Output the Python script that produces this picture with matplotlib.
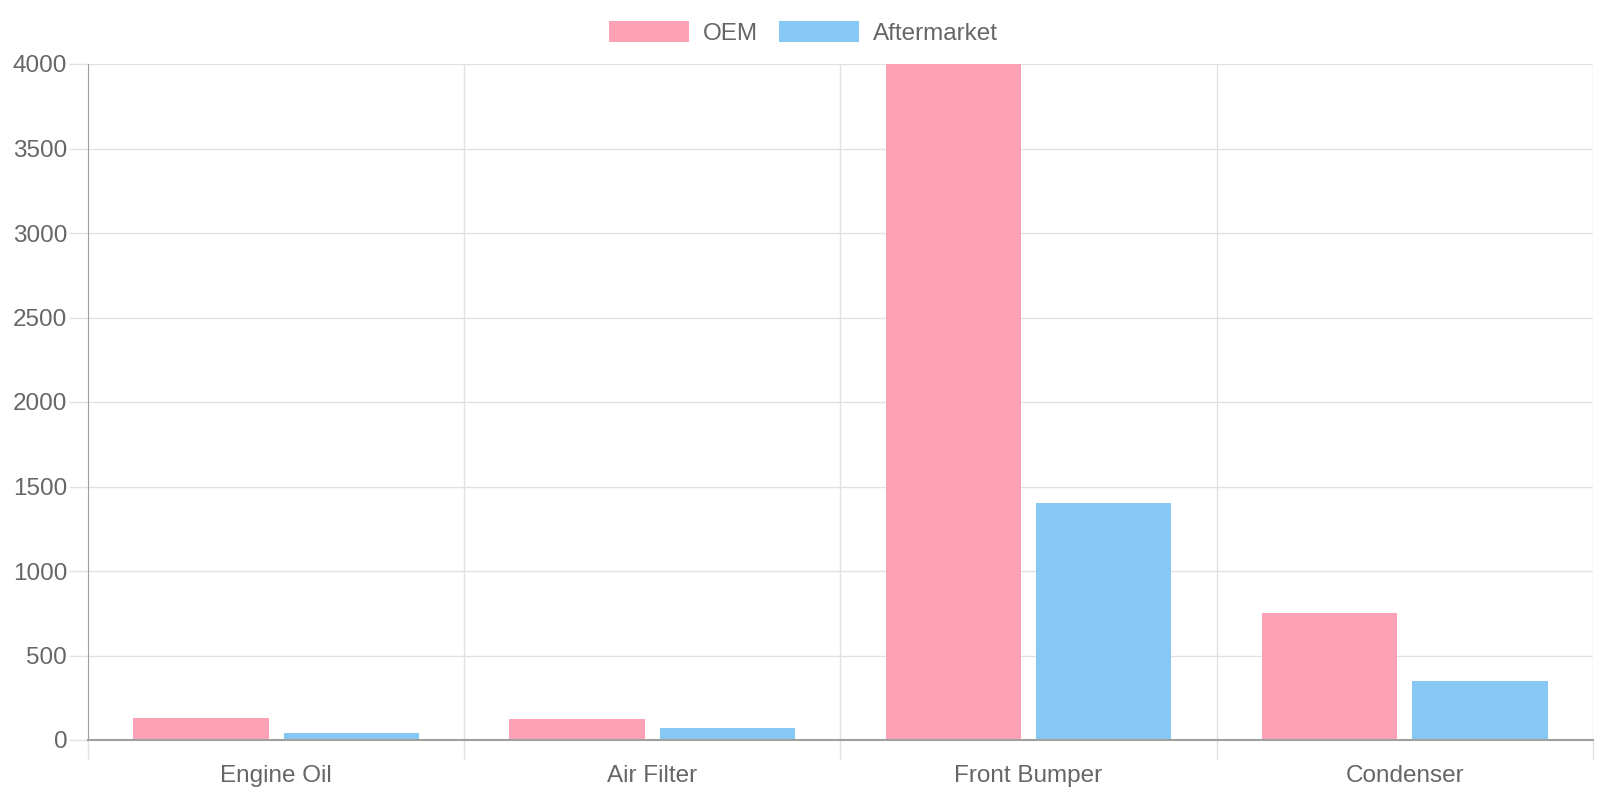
"""
Grouped bar chart: OEM vs Aftermarket part prices
"""

import numpy as np
import matplotlib
matplotlib.use('Agg')
import matplotlib.pyplot as plt

####################
categories = ['Engine Oil', 'Air Filter', 'Front Bumper', 'Condenser']
oem = [133, 127, 4000, 750]
aftermarket = [40, 70, 1400, 350]
series_labels = ['OEM', 'Aftermarket']
yticks = [0, 500, 1000, 1500, 2000, 2500, 3000, 3500, 4000]
####################

text_color = '#666666'
grid_color = '#e1e1e1'
axis_color = '#a0a0a0'
pink = '#ffa1b5'
blue = '#86c7f3'
fs = 17.5

plt.rcParams['font.family'] = ['Liberation Sans', 'DejaVu Sans']

fig = plt.figure(figsize=(16, 8), dpi=100)
ax = fig.add_axes([0.055, 0.075, 0.9405, 0.845])

x = np.arange(len(categories))
width = 0.36
ax.bar(x - 0.2, oem, width, color=pink, label=series_labels[0], zorder=2)
ax.bar(x + 0.2, aftermarket, width, color=blue, label=series_labels[1], zorder=2)

ax.set_xlim(-0.5, len(categories) - 0.5)
ax.set_ylim(0, 4000)

# category labels in the middle, grid lines between categories
ax.set_xticks(x)
ax.set_xticklabels(categories, color=text_color, fontsize=fs)
ax.set_xticks(np.arange(len(categories) + 1) - 0.5, minor=True)
ax.tick_params(axis='x', which='major', length=0, pad=18)
ax.tick_params(axis='x', which='minor', length=14, color=grid_color, width=1)
ax.grid(axis='x', which='minor', color=grid_color, linewidth=1, zorder=0)

ax.set_yticks(yticks)
ax.set_yticklabels([str(v) for v in yticks], color=text_color, fontsize=fs)
ax.tick_params(axis='y', length=14, color=grid_color, width=1, pad=1)
ax.grid(axis='y', color=grid_color, linewidth=1, zorder=0)

for side in ['top', 'right']:
    ax.spines[side].set_visible(False)
ax.spines['left'].set_color(axis_color)
ax.spines['bottom'].set_color(axis_color)
ax.spines['bottom'].set_linewidth(1.5)
ax.spines['left'].set_zorder(3)
ax.spines['bottom'].set_zorder(3)

# legend on top
leg = fig.legend(loc='center', bbox_to_anchor=(0.502, 0.959), ncol=2,
                 frameon=False, handlelength=3.3, handleheight=0.97,
                 handletextpad=0.55, columnspacing=0.88, fontsize=fs)
for t in leg.get_texts():
    t.set_color(text_color)

fig.savefig('out.png', dpi=100)
